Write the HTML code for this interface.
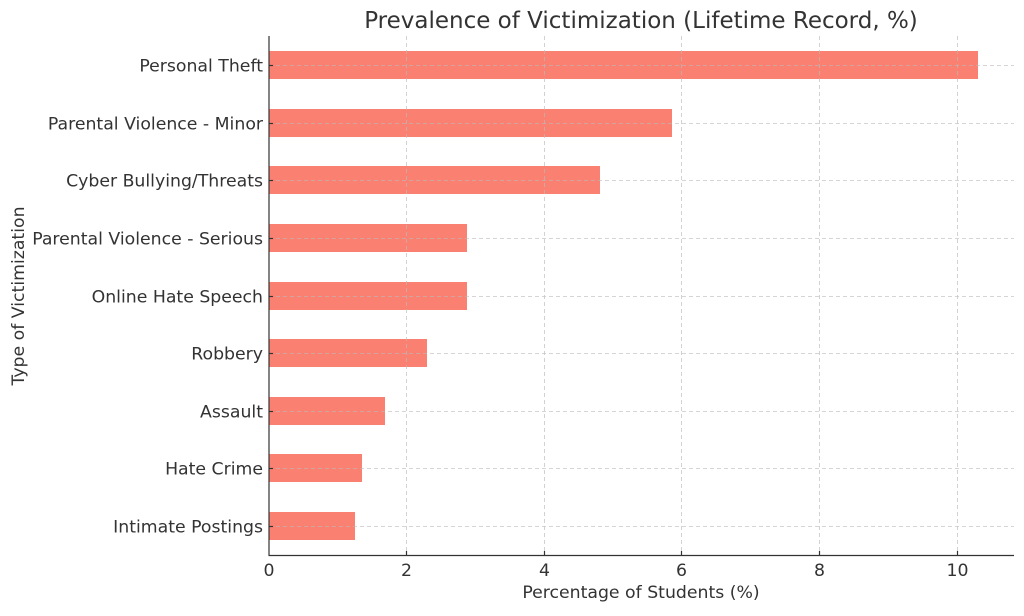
<!DOCTYPE html>
<html><head><meta charset="utf-8"><style>body{margin:0;background:#fff}</style></head><body>
<svg width="1024" height="611" xmlns="http://www.w3.org/2000/svg" font-family="DejaVu Sans, Liberation Sans, sans-serif" fill="#333">
<rect width="1024" height="611" fill="#fff"/>
<g fill="#fa8072">
<rect x="269" y="51" width="709" height="28"/>
<rect x="269" y="109" width="403" height="28"/>
<rect x="269" y="166" width="331" height="28"/>
<rect x="269" y="224" width="198" height="28"/>
<rect x="269" y="282" width="198" height="28"/>
<rect x="269" y="339" width="158" height="28"/>
<rect x="269" y="397" width="116" height="28"/>
<rect x="269" y="454" width="93" height="28"/>
<rect x="269" y="512" width="86" height="28"/>
</g>
<g stroke="#bbb" stroke-width="0.8" stroke-dasharray="4,3" opacity="0.8">
<line x1="406.5" y1="36" x2="406.5" y2="555"/><line x1="544.5" y1="36" x2="544.5" y2="555"/>
<line x1="681.5" y1="36" x2="681.5" y2="555"/><line x1="819.5" y1="36" x2="819.5" y2="555"/>
<line x1="957.5" y1="36" x2="957.5" y2="555"/>
<line x1="269" y1="65.5" x2="1014" y2="65.5"/><line x1="269" y1="123.5" x2="1014" y2="123.5"/>
<line x1="269" y1="180.5" x2="1014" y2="180.5"/><line x1="269" y1="238.5" x2="1014" y2="238.5"/>
<line x1="269" y1="296.5" x2="1014" y2="296.5"/><line x1="269" y1="353.5" x2="1014" y2="353.5"/>
<line x1="269" y1="411.5" x2="1014" y2="411.5"/><line x1="269" y1="468.5" x2="1014" y2="468.5"/>
<line x1="269" y1="526.5" x2="1014" y2="526.5"/>
</g>
<g stroke="#333" stroke-width="1.2">
<line x1="269" y1="36" x2="269" y2="555.5"/><line x1="268.5" y1="555.5" x2="1014" y2="555.5"/>
<line x1="406.5" y1="555" x2="406.5" y2="551"/><line x1="544.5" y1="555" x2="544.5" y2="551"/>
<line x1="681.5" y1="555" x2="681.5" y2="551"/><line x1="819.5" y1="555" x2="819.5" y2="551"/>
<line x1="957.5" y1="555" x2="957.5" y2="551"/>
<line x1="269" y1="65.5" x2="273" y2="65.5"/><line x1="269" y1="123.5" x2="273" y2="123.5"/>
<line x1="269" y1="180.5" x2="273" y2="180.5"/><line x1="269" y1="238.5" x2="273" y2="238.5"/>
<line x1="269" y1="296.5" x2="273" y2="296.5"/><line x1="269" y1="353.5" x2="273" y2="353.5"/>
<line x1="269" y1="411.5" x2="273" y2="411.5"/><line x1="269" y1="468.5" x2="273" y2="468.5"/>
<line x1="269" y1="526.5" x2="273" y2="526.5"/>
</g>
<g font-size="17.3" text-anchor="end">
<text x="263" y="71.5">Personal Theft</text>
<text x="263" y="129.5">Parental Violence - Minor</text>
<text x="263" y="186.5">Cyber Bullying/Threats</text>
<text x="263" y="244.5">Parental Violence - Serious</text>
<text x="263" y="302.5">Online Hate Speech</text>
<text x="263" y="359.5">Robbery</text>
<text x="263" y="417.5">Assault</text>
<text x="263" y="474.5">Hate Crime</text>
<text x="263" y="532.5">Intimate Postings</text>
</g>
<g font-size="17.3" text-anchor="middle">
<text x="269" y="576">0</text><text x="406.5" y="576">2</text><text x="544.5" y="576">4</text>
<text x="681.5" y="576">6</text><text x="819.5" y="576">8</text><text x="957.5" y="576">10</text>
<text x="641" y="598">Percentage of Students (%)</text>
<text x="641" y="28" font-size="23">Prevalence of Victimization (Lifetime Record, %)</text>
<text transform="translate(24,296) rotate(-90)">Type of Victimization</text>
</g>
</svg>
</body></html>
